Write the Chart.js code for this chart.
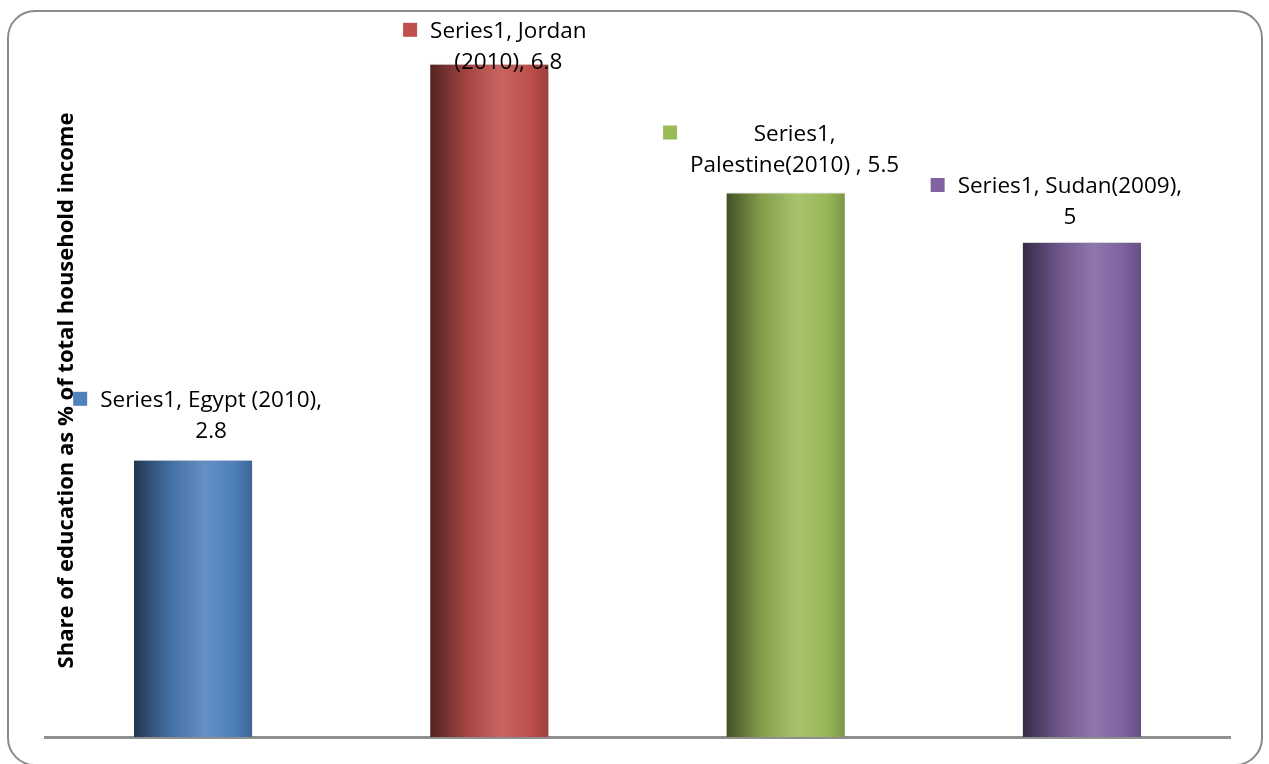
<!DOCTYPE html>
<html>
<head>
<meta charset="utf-8">
<script src="https://cdn.jsdelivr.net/npm/chart.js@4"></script>
<style>
  html, body { margin: 0; padding: 0; background: #fff; overflow: hidden; }
  #wrap { position: relative; width: 1269px; height: 764px; }
  #frame {
    position: absolute; left: 7px; top: 10px; width: 1256px; height: 756px;
    border: 2px solid #8a8a8a; border-radius: 28px; box-sizing: border-box;
  }
  canvas { position: absolute; left: 0; top: 0; }
</style>
</head>
<body>
<div id="wrap">
  <div id="frame"></div>
  <canvas id="eduChart" width="1269" height="764"></canvas>
</div>
<script>
const seriesName = 'Series1';
const countries = ['Egypt (2010)', 'Jordan (2010)', 'Palestine(2010) ', 'Sudan(2009)'];
const shares = [2.8, 6.8, 5.5, 5];
const barColors = ['#4f81bd', '#c0504d', '#9bbb59', '#8064a2'];
const yMax = 7;

// where each label wraps (characters on the first line)
const labelBreaks = [22, 15, 8, 21];
// label nudges: text centre offset from bar centre, gap above bar
const labelNudge = [[18, 28], [19, 1], [9, 27], [-12, 24]];

function shade(hex, f) {
  const n = parseInt(hex.slice(1), 16);
  let r = (n >> 16) & 255, g = (n >> 8) & 255, b = n & 255;
  const mix = (c) => f < 1 ? Math.round(c * f) : Math.round(c + (255 - c) * (f - 1));
  return `rgb(${mix(r)},${mix(g)},${mix(b)})`;
}

// cylinder-like shading across each bar
function barFill(ctx) {
  const chart = ctx.chart;
  const x = chart.scales.x;
  const base = barColors[ctx.dataIndex];
  if (!x || x.width == null) return base;
  const cx = x.getPixelForValue(ctx.dataIndex);
  const half = (x.width / countries.length) * 0.4 / 2;
  const g = chart.ctx.createLinearGradient(cx - half, 0, cx + half, 0);
  g.addColorStop(0, shade(base, 0.42));
  g.addColorStop(0.3, shade(base, 0.85));
  g.addColorStop(0.6, shade(base, 1.12));
  g.addColorStop(0.85, shade(base, 0.98));
  g.addColorStop(1, shade(base, 0.8));
  return g;
}

const labelFont = '22.5px "Open Sans"';

const valueLabels = {
  id: 'valueLabels',
  afterDatasetsDraw(chart) {
    const c = chart.ctx;
    const meta = chart.getDatasetMeta(0);
    c.save();
    c.font = labelFont;
    c.textAlign = 'center';
    c.textBaseline = 'middle';
    meta.data.forEach((bar, i) => {
      const full = `${seriesName}, ${countries[i]}, ${shares[i]}`;
      const cut = labelBreaks[i];
      const lines = [full.slice(0, cut).trimEnd(), full.slice(cut).trimStart()];
      const [dx, gap] = labelNudge[i];
      const cx = bar.x + dx;
      const lh = 31;
      const y2 = bar.y - gap;
      const y1 = y2 - lh;
      c.fillStyle = '#000';
      c.fillText(lines[0], cx, y1);
      c.fillText(lines[1], cx, y2);
      const widest = Math.max(...lines.map(l => c.measureText(l).width));
      const sq = 14;
      c.fillStyle = barColors[i];
      c.fillRect(cx - widest / 2 - 13 - sq, y1 - sq / 2 - 2, sq, sq);
    });
    c.restore();
  }
};

new Chart(document.getElementById('eduChart'), {
  type: 'bar',
  data: {
    labels: countries,
    datasets: [{
      label: seriesName,
      data: shares,
      backgroundColor: barFill,
      borderColor: 'rgba(210,210,210,0.9)',
      borderWidth: { top: 1, left: 0, right: 0, bottom: 0 },
      barPercentage: 0.4,
      categoryPercentage: 1
    }]
  },
  options: {
    responsive: false,
    animation: false,
    layout: { padding: { left: 45, right: 39, top: 44, bottom: 27 } },
    plugins: {
      legend: { display: false },
      tooltip: { enabled: false }
    },
    scales: {
      x: {
        ticks: { display: false },
        grid: { display: false },
        border: { display: true, color: '#8f8f8f', width: 3 },
        afterFit(scale) { scale.height = 0; }
      },
      y: {
        min: 0,
        max: yMax,
        ticks: { display: false },
        grid: { display: false },
        border: { display: false },
        title: {
          display: true,
          text: 'Share of education as % of total household income',
          color: '#000',
          font: { family: '"Open Sans"', size: 22, weight: 'bold' },
          padding: { top: 9, bottom: 0 }
        },
        afterFit(scale) { scale.width = 0; }
      }
    }
  },
  plugins: [valueLabels]
});
</script>
</body>
</html>
